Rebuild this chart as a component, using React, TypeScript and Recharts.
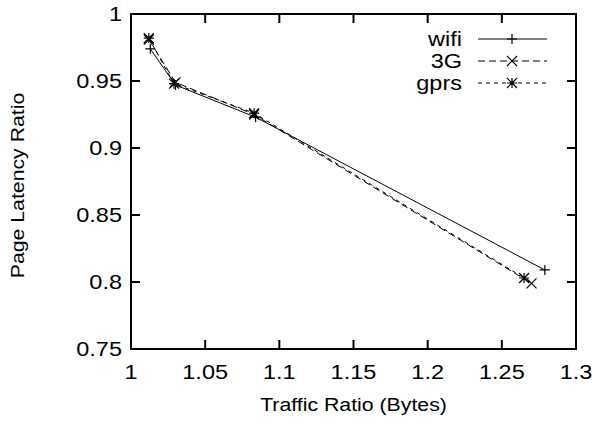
import React from 'react';
import { ScatterChart, Scatter, XAxis, YAxis, ReferenceArea } from 'recharts';

// values
const wifiX = [1.013, 1.030, 1.084, 1.279];
const wifiY = [0.974, 0.947, 0.923, 0.809];
const g3X = [1.012, 1.030, 1.083, 1.270];
const g3Y = [0.981, 0.949, 0.925, 0.799];
const gprsX = [1.012, 1.029, 1.083, 1.265];
const gprsY = [0.982, 0.948, 0.926, 0.803];

const xTicks = [1, 1.05, 1.1, 1.15, 1.2, 1.25, 1.3];
const yTicks = [0.75, 0.8, 0.85, 0.9, 0.95, 1];

const seriesNames = ['wifi', '3G', 'gprs'];

const toPoints = (xs: number[], ys: number[]) => xs.map((x, i) => ({ x, y: ys[i] }));

const W = 597;
const H = 428;
const LEFT = 131;
const RIGHT = 576;
const TOP = 14;
const BOTTOM = 349;
const TICK = 9;
const FONT = '"Liberation Sans", Arial, sans-serif';
const FS = 21;

type Kind = 'plus' | 'cross' | 'star';

function marker(kind: Kind, cx: number, cy: number, r = 5) {
  const plus = `M${cx - r},${cy}H${cx + r}M${cx},${cy - r}V${cy + r}`;
  const cross = `M${cx - r},${cy - r}L${cx + r},${cy + r}M${cx - r},${cy + r}L${cx + r},${cy - r}`;
  const d = kind === 'plus' ? plus : kind === 'cross' ? cross : plus + cross;
  return <path d={d} stroke="#000" strokeWidth={1.2} fill="none" />;
}

const shapeFor = (kind: Kind) => (p: any) => marker(kind, p.cx, p.cy);

const styles = [
  { kind: 'plus' as Kind, dash: undefined },
  { kind: 'cross' as Kind, dash: '7 4' },
  { kind: 'star' as Kind, dash: '4 4' },
];

// gnuplot text looks a bit wider than Arial, stretch it sideways
function Txt({ x, y, anchor, children, size = FS }: any) {
  return (
    <text
      transform={`translate(${x},${y}) scale(1.12,1)`}
      textAnchor={anchor}
      fontSize={size}
      fontFamily={FONT}
      fill="#000"
    >
      {children}
    </text>
  );
}

function YTick(props: any) {
  const { y, payload } = props;
  return (
    <g>
      <line x1={LEFT} x2={LEFT + TICK} y1={y} y2={y} stroke="#000" strokeWidth={2} />
      <line x1={RIGHT - TICK} x2={RIGHT} y1={y} y2={y} stroke="#000" strokeWidth={2} />
      <Txt x={LEFT - 9} y={y + 7} anchor="end">{String(payload.value)}</Txt>
    </g>
  );
}

function XTick(props: any) {
  const { x, payload } = props;
  return (
    <g>
      <line x1={x} x2={x} y1={BOTTOM} y2={BOTTOM - TICK} stroke="#000" strokeWidth={2} />
      <line x1={x} x2={x} y1={TOP} y2={TOP + TICK} stroke="#000" strokeWidth={2} />
      <Txt x={x} y={BOTTOM + 30} anchor="middle">{String(payload.value)}</Txt>
    </g>
  );
}

function XTitle() {
  return <Txt x={(LEFT + RIGHT) / 2} y={411} anchor="middle" size={19}>Traffic Ratio (Bytes)</Txt>;
}

function YTitle() {
  return (
    <text
      transform={`translate(24,${(TOP + BOTTOM) / 2 + 4}) rotate(-90) scale(1.12,1)`}
      textAnchor="middle"
      fontSize={19}
      fontFamily={FONT}
      fill="#000"
    >
      Page Latency Ratio
    </text>
  );
}

function LegendBox() {
  return (
    <svg width={200} height={80} style={{ position: 'absolute', left: 380, top: 25 }}>
      {seriesNames.map((name, i) => {
        const y = 14 + i * 22;
        return (
          <g key={name}>
            <Txt x={82} y={y + 7} anchor="end">{name}</Txt>
            <line x1={98} x2={167} y1={y} y2={y} stroke="#000" strokeWidth={1} strokeDasharray={styles[i].dash} />
            {marker(styles[i].kind, 132, y)}
          </g>
        );
      })}
    </svg>
  );
}

export default function App() {
  const all = [toPoints(wifiX, wifiY), toPoints(g3X, g3Y), toPoints(gprsX, gprsY)];
  return (
    <div style={{ position: 'absolute', left: 0, top: 0, width: W, height: H, background: '#fff' }}>
      <ScatterChart width={W} height={H} margin={{ top: TOP, right: W - RIGHT, bottom: 0, left: 0 }}>
        <XAxis
          type="number"
          dataKey="x"
          domain={[1, 1.3]}
          ticks={xTicks}
          height={H - BOTTOM}
          axisLine={false}
          tickLine={false}
          tick={<XTick />}
          label={<XTitle />}
        />
        <YAxis
          type="number"
          dataKey="y"
          domain={[0.75, 1]}
          ticks={yTicks}
          width={LEFT}
          axisLine={false}
          tickLine={false}
          tick={<YTick />}
          label={<YTitle />}
        />
        <ReferenceArea x1={1} x2={1.3} y1={0.75} y2={1} fill="none" stroke="#000" strokeWidth={2} />
        {all.map((pts, i) => (
          <Scatter
            key={seriesNames[i]}
            name={seriesNames[i]}
            data={pts}
            line={{ stroke: '#000', strokeWidth: 1, strokeDasharray: styles[i].dash }}
            lineType="joint"
            shape={shapeFor(styles[i].kind)}
            isAnimationActive={false}
          />
        ))}
      </ScatterChart>
      <LegendBox />
    </div>
  );
}
